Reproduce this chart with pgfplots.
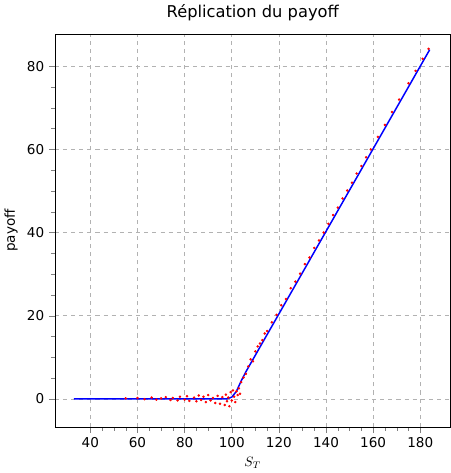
\documentclass[border=0pt]{standalone}
\usepackage{pgfplots}
\pgfplotsset{compat=1.18}
\usepackage{fontspec}
\setmainfont{DejaVu Sans}
\begin{document}
\begin{tikzpicture}
\begin{axis}[
  scale only axis, width=292pt, height=290pt,
  xmin=24.9, xmax=192.9, ymin=-6.8, ymax=87.8,
  xtick={40,60,...,180}, ytick={0,20,...,80},
  minor x tick num=3, minor y tick num=3,
  grid=major, major grid style={gray!60, dashed, line width=0.4pt},
  tick align=outside, tick pos=left,
  title={Réplication du payoff}, title style={font=\large},
  xlabel={$S_T$}, ylabel={payoff},
  /pgf/number format/assume math mode=true,
  tick label style={font=\normalsize}, label style={font=\normalsize},
]
\addplot[only marks, mark=*, mark size=0.7pt, red] coordinates {
(55,0.1)(60,0.2)(63,-0.1)(66,0.3)(68,-0.2)(70,0.1)(72,0.4)(74,-0.3)(75,0.2)(77,-0.4)
(78,0.5)(80,-0.2)(81,0.6)(82,-0.5)(84,0.3)(85,-0.6)(86,0.8)(87,-0.3)(88,0.5)(89,-0.8)
(90,0.9)(91,-0.4)(92,0.2)(93,-1.0)(94,0.7)(95,-1.2)(96,0.4)(97,-1.5)(97.5,1.0)(98,-0.6)
(98.5,0.3)(99,-1.8)(99.5,1.6)(100,-0.4)(100.5,2.0)(101,0.5)(101.5,-0.8)(102,1.8)(102.5,0.9)(103,2.5)
(103.5,1.2)(104,4.0)(105,5.1)(106,6.0)(107,7.8)(108,9.5)(109,9.0)(110,11.4)(111,12.6)(112,13.3)
(113,14.1)(114,15.7)(115,16.3)(117,18.4)(119,20.2)(121,22.5)(123,24.0)(125,26.6)(127,28.2)(129,30.1)
(131,32.4)(133,34.0)(135,36.3)(137,38.1)(139,40.0)(141,42.1)(143,44.2)(145,46.0)(147,48.2)(149,50.1)
(151,52.0)(153,54.2)(155,56.0)(157,58.1)(159,60.0)(162,63.0)(165,65.9)(168,69.0)(171,72.0)(175,75.9)
(178,78.9)(181,81.8)(183.5,84.2)
};
\addplot[blue, line width=1.1pt] coordinates {
(33,0)(98,0)(100,0.4)(102,1.8)(104,4.3)(106,6.5)(184,84)
};
\end{axis}
\end{tikzpicture}
\end{document}
